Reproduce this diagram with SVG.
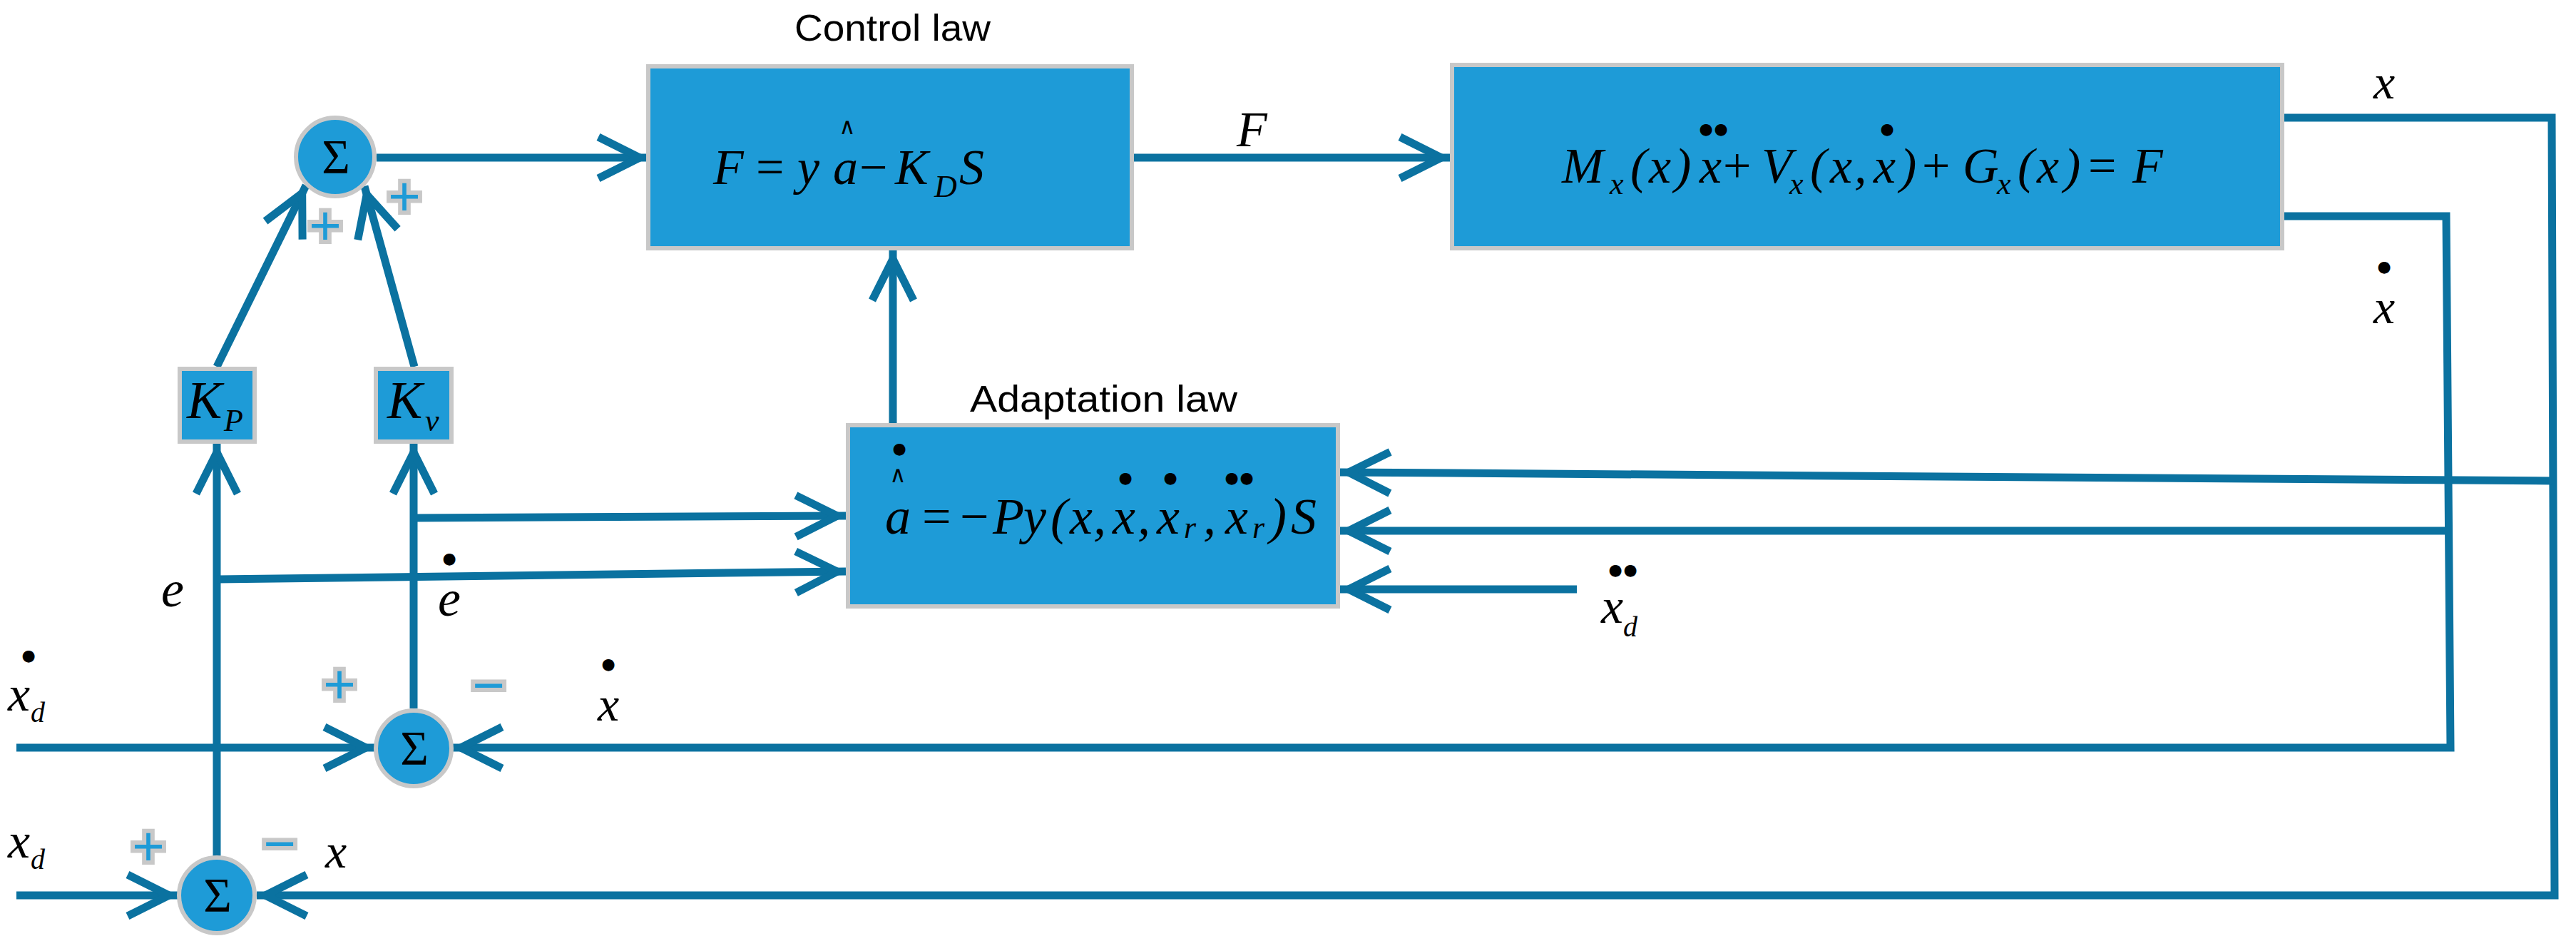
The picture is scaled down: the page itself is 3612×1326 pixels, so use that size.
<svg xmlns="http://www.w3.org/2000/svg" width="3612" height="1326" viewBox="0 0 3612 1326">
<style>
.box{fill:#1e9bd7;stroke:#c8c8c8;stroke-width:6}
.c{fill:none;stroke:#0b72a0;stroke-width:11;stroke-linejoin:miter}
.m{font-family:"Liberation Serif","Times New Roman",serif;font-style:italic;fill:#000}
.n{font-style:normal}
.sig{font-family:"Liberation Serif","Times New Roman",serif;font-size:68px;fill:#000;text-anchor:middle}
.t{font-family:"Liberation Sans",Arial,sans-serif;font-size:52px;fill:#000}
.sg{font-family:"Liberation Sans",Arial,sans-serif;font-size:78px;fill:#1e9bd7;stroke:#c8c8c8;stroke-width:12;stroke-linejoin:miter;paint-order:stroke;text-anchor:middle}
.dt{font-family:"DejaVu Sans",sans-serif;font-size:22px;fill:#000;text-anchor:middle}
.hat{font-family:"DejaVu Sans",sans-serif;font-size:32px;fill:#000;text-anchor:middle}
</style>
<defs>
<marker id="ah" markerUnits="userSpaceOnUse" viewBox="-90 -45 100 90" markerWidth="100" markerHeight="90" refX="0" refY="0" orient="auto" overflow="visible">
<path d="M -70 -29 L -12 0 L -70 29" fill="none" stroke="#0b72a0" stroke-width="11"/>
</marker>
</defs>
<rect width="3612" height="1326" fill="#fff"/>

<g id="connectors">
<path class="c" d="M 528 221 L 909 221" marker-end="url(#ah)"/>
<path class="c" d="M 1590 221 L 2033 221" marker-end="url(#ah)"/>
<path class="c" d="M 1252 593 L 1252 351" marker-end="url(#ah)"/>
<path class="c" d="M 304 514 L 429 260" marker-end="url(#ah)"/>
<path class="c" d="M 581 514 L 511 261" marker-end="url(#ah)"/>
<path class="c" d="M 304 1200 L 304 622" marker-end="url(#ah)"/>
<path class="c" d="M 580 993 L 580 622" marker-end="url(#ah)"/>
<path class="c" d="M 304 812 L 1186 801" marker-end="url(#ah)"/>
<path class="c" d="M 580 726 L 1186 723" marker-end="url(#ah)"/>
<path class="c" d="M 23 1048 L 525 1048" marker-end="url(#ah)"/>
<path class="c" d="M 23 1255 L 249 1255" marker-end="url(#ah)"/>
<path class="c" d="M 3203 165 L 3578 165 L 3582 1255 L 360 1255" marker-end="url(#ah)"/>
<path class="c" d="M 3580 674 L 1879 662" marker-end="url(#ah)"/>
<path class="c" d="M 3203 303 L 3430 303 L 3436 1048 L 634 1048" marker-end="url(#ah)"/>
<path class="c" d="M 3432 744 L 1879 744" marker-end="url(#ah)"/>
<path class="c" d="M 2211 826 L 1879 826" marker-end="url(#ah)"/>
</g>

<g id="sum_top">
<circle class="box" cx="470" cy="220" r="55"/>
<text class="sig" x="471" y="242">Σ</text>
<text class="sg" x="456" y="343">+</text>
<text class="sg" x="567" y="302">+</text>
</g>

<g id="control_law">
<text class="t" x="1114" y="57" textLength="275" lengthAdjust="spacingAndGlyphs">Control law</text>
<rect class="box" x="909" y="93" width="678" height="255"/>
<text class="m" y="258" font-size="70"><tspan x="1000">F</tspan><tspan class="n" x="1060">=</tspan><tspan x="1118">y</tspan><tspan x="1168">a</tspan><tspan class="n" x="1205">−</tspan><tspan x="1255">K</tspan><tspan x="1310" y="276" font-size="44">D</tspan><tspan x="1345" y="258">S</tspan></text>
<text class="hat" x="1188" y="188">∧</text>
</g>

<g id="plant">
<rect class="box" x="2036" y="91" width="1164" height="257"/>
<text class="m" y="256" font-size="70"><tspan x="2190">M</tspan><tspan x="2257" y="272" font-size="44">x</tspan><tspan x="2286" y="256">(</tspan><tspan x="2312">x</tspan><tspan x="2348">)</tspan><tspan x="2383">x</tspan><tspan class="n" x="2416">+</tspan><tspan x="2470">V</tspan><tspan x="2509" y="272" font-size="44">x</tspan><tspan x="2538" y="256">(</tspan><tspan x="2566">x</tspan><tspan x="2600">,</tspan><tspan x="2627">x</tspan><tspan x="2664">)</tspan><tspan class="n" x="2695">+</tspan><tspan x="2752">G</tspan><tspan x="2800" y="272" font-size="44">x</tspan><tspan x="2829" y="256">(</tspan><tspan x="2856">x</tspan><tspan x="2894">)</tspan><tspan class="n" x="2928">=</tspan><tspan x="2990">F</tspan></text>
<text class="dt" x="2392 2413" y="188">●●</text>
<text class="dt" x="2646" y="188">●</text>
</g>

<g id="adaptation_law">
<text class="t" x="1360" y="577" textLength="375" lengthAdjust="spacingAndGlyphs">Adaptation law</text>
<rect class="box" x="1189" y="596" width="687" height="254"/>
<text class="m" y="748" font-size="72"><tspan x="1241">a</tspan><tspan class="n" x="1293">=</tspan><tspan class="n" x="1346">−</tspan><tspan x="1392">P</tspan><tspan x="1435">y</tspan><tspan x="1473">(</tspan><tspan x="1500">x</tspan><tspan x="1533">,</tspan><tspan x="1560">x</tspan><tspan x="1595">,</tspan><tspan x="1622">x</tspan><tspan x="1660" y="754" font-size="44">r</tspan><tspan x="1687" y="748">,</tspan><tspan x="1718">x</tspan><tspan x="1756" y="754" font-size="44">r</tspan><tspan x="1780" y="748">)</tspan><tspan x="1810">S</tspan></text>
<text class="hat" x="1259" y="676">∧</text>
<text class="dt" x="1261" y="636">●</text>
<text class="dt" x="1578" y="677">●</text>
<text class="dt" x="1641" y="677">●</text>
<text class="dt" x="1727 1748" y="677">●●</text>
</g>

<g id="kp">
<rect class="box" x="252" y="517" width="105" height="102"/>
<text class="m" y="586" font-size="74"><tspan x="262">K</tspan><tspan x="314" y="604" font-size="44">P</tspan></text>
</g>

<g id="kv">
<rect class="box" x="527" y="517" width="106" height="102"/>
<text class="m" y="586" font-size="74"><tspan x="543">K</tspan><tspan x="596" y="604" font-size="44">v</tspan></text>
</g>

<g id="sum_v">
<circle class="box" cx="580" cy="1049" r="53"/>
<text class="sig" x="581" y="1071">Σ</text>
<text class="sg" x="476" y="986">+</text>
<text class="sg" x="685" y="987">−</text>
</g>

<g id="sum_p">
<circle class="box" cx="304" cy="1255" r="53"/>
<text class="sig" x="305" y="1277">Σ</text>
<text class="sg" x="208" y="1213">+</text>
<text class="sg" x="392" y="1209">−</text>
</g>

<g id="labels">
<text class="m" x="1734" y="205" font-size="70">F</text>
<text class="m" x="3328" y="138" font-size="68">x</text>
<text class="dt" x="3343" y="381">●</text>
<text class="m" x="3328" y="453" font-size="68">x</text>
<text class="m" x="226" y="850" font-size="72">e</text>
<text class="dt" x="630" y="790">●</text>
<text class="m" x="614" y="863" font-size="72">e</text>
<text class="dt" x="40" y="926">●</text>
<text class="m" font-size="70"><tspan x="11" y="996">x</tspan><tspan x="43" y="1012" font-size="40">d</tspan></text>
<text class="m" font-size="70"><tspan x="11" y="1202">x</tspan><tspan x="43" y="1218" font-size="40">d</tspan></text>
<text class="m" x="456" y="1216" font-size="68">x</text>
<text class="dt" x="853" y="938">●</text>
<text class="m" x="838" y="1010" font-size="68">x</text>
<text class="dt" x="2265 2286" y="806">●●</text>
<text class="m" font-size="70"><tspan x="2245" y="873">x</tspan><tspan x="2276" y="892" font-size="40">d</tspan></text>
</g>
</svg>
